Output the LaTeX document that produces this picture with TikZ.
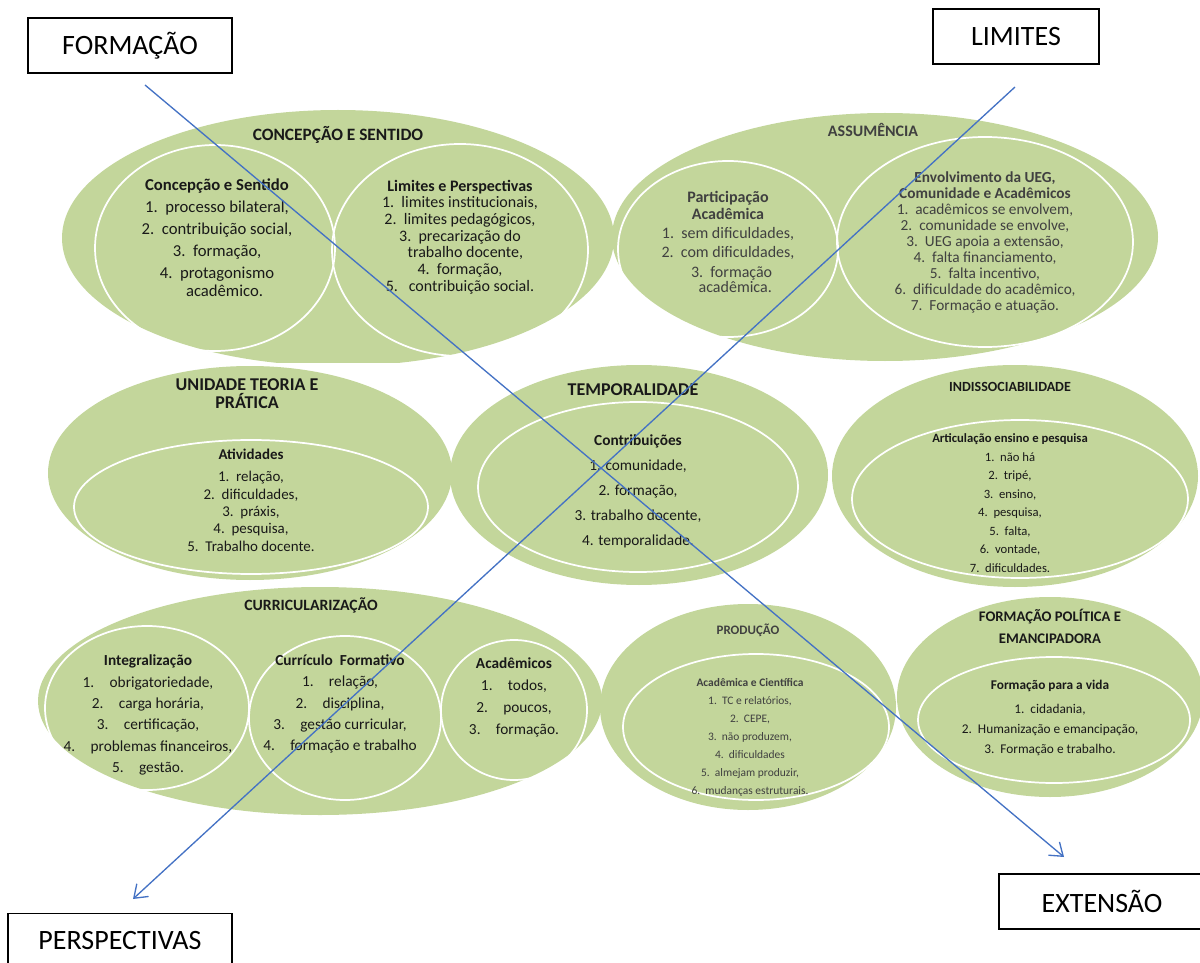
\documentclass[tikz,border=0pt]{standalone}
\usepackage{fontspec}
\setmainfont{Carlito}
\usetikzlibrary{arrows.meta}
\definecolor{venngreen}{HTML}{C3D69B}
\definecolor{arrowblue}{HTML}{4472C4}
\newcommand{\fsz}[2]{\fontsize{#1}{#2}\selectfont}
\begin{document}
\begin{tikzpicture}[x=0.75pt,y=-0.75pt,
  bubble/.style={fill=venngreen},
  ring/.style={draw=white, line width=1.3pt},
  txt/.style={align=center, inner sep=0pt, text=black!90},
  blur/.style={align=center, inner sep=0pt, text=black!75},
  labelbox/.style={draw=black, line width=1.1pt, inner sep=0pt, minimum height=41.25pt, font=\fsz{21}{24}},
  cross/.style={arrowblue, line width=1pt, -{Straight Barb[length=9pt,width=13pt,line width=1pt]}}]
\useasboundingbox (0,0) rectangle (1200,963);
\clip (0,0) rectangle (1200,963);

% concepcao e sentido
\begin{scope}
\clip (0,100) rectangle (615,362);
\fill[bubble] (338,238) ellipse [x radius=276, y radius=128];
\end{scope}
\draw[ring] (215,248) ellipse [x radius=120, y radius=103];
\draw[ring] (460,250) ellipse [x radius=128, y radius=106];
\node[txt, font=\bfseries\fsz{13}{15}] (csTitle) at (338,135) {CONCEPÇÃO E SENTIDO};
\node[txt, font=\fsz{12.5}{16.5}] (csLeft) at (217,238) {\textbf{Concepção e Sentido}\\
  1.\ \ processo bilateral,\\ 2.\ \ contribuição social,\\ 3.\ \ formação,\\
  4.\ \ protagonismo\\[-3pt] \ \ \ \ acadêmico.};
\node[txt, font=\fsz{12}{12.5}] (csRight) at (460,237) {\textbf{Limites e Perspectivas}\\
  1.\ \ limites institucionais,\\ 2.\ \ limites pedagógicos,\\ 3.\ \ precarização do\\
  \ \ \ trabalho docente,\\ 4.\ \ formação,\\ 5.\ \ \ contribuição social.};

% assumencia
\fill[bubble] (885,237) ellipse [x radius=273, y radius=124];
\draw[ring] (728,249) ellipse [x radius=110, y radius=88];
\draw[ring] (985,242) ellipse [x radius=148, y radius=105];
\node[blur, font=\bfseries\fsz{12}{13}] (asTitle) at (873,130) {ASSUMÊNCIA};
\node[blur, font=\fsz{12}{14.5}] (asLeft) at (728,242) {\textbf{Participação}\\[-2pt]
  \textbf{Acadêmica}\\ 1.\ \ sem dificuldades,\\ 2.\ \ com dificuldades,\\
  \ \ 3.\ \ formação\\[-3pt] \ \ \ \ acadêmica.};
\node[blur, font=\fsz{11.5}{12}] (asRight) at (985,242) {\textbf{Envolvimento da UEG,}\\
  \textbf{Comunidade e Acadêmicos}\\ 1.\ \ acadêmicos se envolvem,\\
  2.\ \ comunidade se envolve,\\ 3.\ \ UEG apoia a extensão,\\ 4.\ \ falta financiamento,\\
  5.\ \ falta incentivo,\\ 6.\ \ dificuldade do acadêmico,\\ 7.\ \ Formação e atuação.};

% unidade teoria e pratica
\fill[bubble] (250,473) ellipse [x radius=202, y radius=107];
\draw[ring] (251,507) ellipse [x radius=177, y radius=67];
\node[txt, font=\bfseries\fsz{13.5}{13.5}] (utTitle) at (247,394) {UNIDADE TEORIA E\\ PRÁTICA};
\node[txt, font=\fsz{11.2}{13}] (utList) at (251,500) {\textbf{Atividades}\\[4pt]
  1.\ \ relação,\\ 2.\ \ dificuldades,\\ 3.\ \ práxis,\\ 4.\ \ pesquisa,\\
  5.\ \ Trabalho docente.};

% temporalidade
\fill[bubble] (639,475) ellipse [x radius=189, y radius=110];
\draw[ring] (638,487) ellipse [x radius=160, y radius=85];
\node[txt, font=\bfseries\fsz{13.5}{15}] (tpTitle) at (633,390) {TEMPORALIDADE};
\node[txt, font=\fsz{11.5}{18.75}] (tpList) at (638,491) {\textbf{Contribuições}\\
  1. comunidade,\\ 2. formação,\\ 3. trabalho docente,\\ 4. temporalidade.};

% indissociabilidade
\fill[bubble] (1015,476) ellipse [x radius=183, y radius=111];
\draw[ring] (1020,499) ellipse [x radius=168, y radius=79];
\node[txt, font=\bfseries\fsz{10.5}{12}] (idTitle) at (1010,387) {INDISSOCIABILIDADE};
\node[txt, font=\fsz{9.5}{13.9}] (idList) at (1010,503) {\textbf{Articulação ensino e pesquisa}\\
  1.\ \ não há\\ 2.\ \ tripé,\\ 3.\ \ ensino,\\ 4.\ \ pesquisa,\\ 5.\ \ falta,\\
  6.\ \ vontade,\\ 7.\ \ dificuldades.};

% curricularizacao
\fill[bubble] (320,701) ellipse [x radius=282, y radius=114];
\draw[ring] (147,708) ellipse [x radius=102, y radius=82];
\draw[ring] (345,718) ellipse [x radius=96, y radius=82];
\draw[ring] (514,710) ellipse [x radius=73, y radius=70];
\node[txt, font=\bfseries\fsz{11.8}{12}] (cuTitle) at (311,605) {CURRICULARIZAÇÃO};
\node[txt, font=\fsz{11.5}{16}] (cuLeft) at (148,715) {\textbf{Integralização}\\
  1.\quad obrigatoriedade,\\ 2.\quad carga horária,\\ 3.\quad certificação,\\
  4.\quad problemas financeiros,\\ 5.\quad gestão.};
\node[txt, font=\fsz{11.5}{16}] (cuMid) at (340,704) {\textbf{Currículo\ \ Formativo}\\
  1.\quad relação,\\ 2.\quad disciplina,\\ 3.\quad gestão curricular,\\
  4.\quad formação e trabalho};
\node[txt, font=\fsz{11.5}{16.5}] (cuRight) at (514,697) {\textbf{Acadêmicos}\\
  1.\quad todos,\\ 2.\quad poucos,\\ 3.\quad formação.};

% producao
\fill[bubble] (748,707) ellipse [x radius=148, y radius=103];
\draw[ring] (756,727) ellipse [x radius=133, y radius=73];
\node[blur, font=\bfseries\fsz{9.7}{10}] (prTitle) at (748,630) {PRODUÇÃO};
\node[blur, font=\fsz{8.6}{13.5}] (prList) at (750,737) {\textbf{Acadêmica e Científica}\\
  1.\ \ TC e relatórios,\\ 2.\ \ CEPE,\\ 3.\ \ não produzem,\\ 4.\ \ dificuldades\\
  5.\ \ almejam produzir,\\ 6.\ \ mudanças estruturais.};

% formacao politica e emancipadora
\fill[bubble] (1050,697) ellipse [x radius=153, y radius=100];
\draw[ring] (1054,720) ellipse [x radius=136, y radius=63];
\node[txt, font=\bfseries\fsz{11}{16.5}] (fpTitle) at (1050,626) {FORMAÇÃO POLÍTICA E\\ EMANCIPADORA};
\node[txt, font=\fsz{10}{15}] (fpList) at (1050,718) {\textbf{Formação para a vida}\\[3pt]
  1.\ \ cidadania,\\ 2.\ \ Humanização e emancipação,\\ 3.\ \ Formação e trabalho.};

% corner labels
\node[labelbox, minimum width=153pt] (formacao) at (130,45.5) {FORMAÇÃO};
\node[labelbox, minimum width=124.5pt] (limites) at (1016,36.5) {LIMITES};
\node[labelbox, minimum width=168pt] (perspectivas) at (120,941) {PERSPECTIVAS};
\node[labelbox, minimum width=154.5pt] (extensao) at (1102,901.5) {EXTENSÃO};

% crossing arrows
\coordinate (fStart) at (145,85);
\coordinate (fEnd) at (1064,857);
\coordinate (lStart) at (1015,87);
\coordinate (lEnd) at (133,899);
\draw[cross] (fStart) -- (fEnd);
\draw[cross] (lStart) -- (lEnd);
\end{tikzpicture}
\end{document}
